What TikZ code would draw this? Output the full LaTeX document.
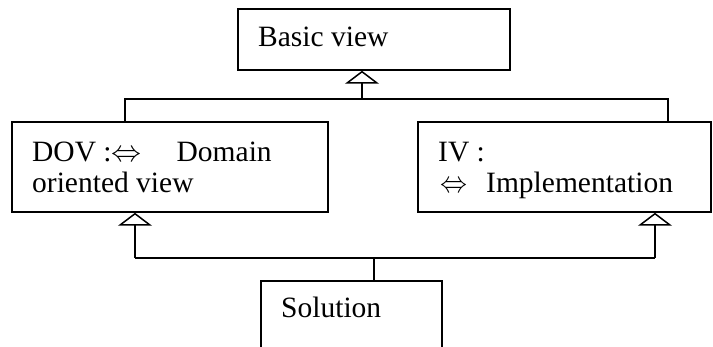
\documentclass[tikz,border=0pt]{standalone}
\usepackage{fontspec}
\usepackage{graphicx}
\setmainfont{Liberation Serif}
\newcommand{\iffarrow}[1]{\raisebox{0.5pt}{\resizebox{#1}{11pt}{$\Leftrightarrow$}}}
\usetikzlibrary{arrows.meta}
\begin{document}
\begin{tikzpicture}[x=1pt,y=-1pt,
  box/.style={draw,line width=1.5pt,minimum width=#1,inner sep=0pt},
  txt/.style={anchor=base west,inner sep=0pt,font=\fontsize{29.5}{31}\selectfont},
  conn/.style={line width=1.5pt},
  inh/.style={line width=1.5pt,-{Triangle[open,width=34pt,length=13pt]}}]
\useasboundingbox (0,0) rectangle (713,347);
\clip (0,0) rectangle (713,347);
\node[box=272pt,minimum height=61pt] (basic) at (374,39.5) {};
\node[box=316pt,minimum height=90pt] (dov) at (170,167) {};
\node[box=293pt,minimum height=90pt] (iv) at (564.5,167) {};
\node[box=181pt,minimum height=90pt] (sol) at (351.5,326) {};
\node[txt] (tbasic) at (258,47) {Basic view};
\node[txt] (tdov1) at (32,162) {DOV :\iffarrow{30pt}\hspace{35pt}Domain};
\node[txt] (tdov2) at (32,193) {oriented view};
\node[txt] (tiv1) at (438,162) {IV :};
\node[txt] (tiv2) at (440,193) {\iffarrow{27pt}\hspace{19pt}Implementation};
\node[txt] (tsol) at (281,318) {Solution};
\coordinate (tl) at (125,99);
\coordinate (tr) at (668,99);
\coordinate (tm) at (362,99);
\coordinate (bl) at (135,258);
\coordinate (br) at (655,258);
\coordinate (bm) at (374,258);
\draw[conn] (dov.north -| tl) -- (tl) -- (tr) -- (iv.north -| tr);
\draw[inh] (tm) -- (basic.south -| tm);
\draw[conn] (bl) -- (br);
\draw[conn] (sol.north -| bm) -- (bm);
\draw[inh] (bl) -- (dov.south -| bl);
\draw[inh] (br) -- (iv.south -| br);
\end{tikzpicture}
\end{document}
